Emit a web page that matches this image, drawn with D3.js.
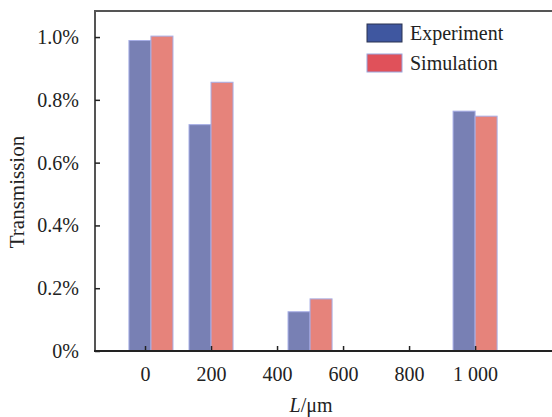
<!DOCTYPE html>
<html><head><meta charset="utf-8">
<script src="https://cdn.jsdelivr.net/npm/d3@7"></script>
<style>body{margin:0;background:#fff;}svg{display:block;font-family:"Liberation Serif","Times New Roman",serif;}</style>
</head><body>
<svg id="c" width="552" height="417"></svg>
<script>
const series = ["Experiment", "Simulation"];
const positions = [18, 200, 500, 1000];          // bar group centres on the L axis (µm)
const experiment = [0.989, 0.721, 0.125, 0.764]; // %
const simulation = [1.003, 0.856, 0.166, 0.748]; // %
const xTicks = [0, 200, 400, 600, 800, 1000];
const xTickLabels = ["0", "200", "400", "600", "800", "1 000"];
const yTicks = [0, 0.2, 0.4, 0.6, 0.8, 1.0];
const yTickLabels = ["0%", "0.2%", "0.4%", "0.6%", "0.8%", "1.0%"];

const barFill = ["#7880b4", "#e6837b"];
const legendFill = ["#3f57a0", "#e0515a"];
const legendStroke = ["#2b3350", "#9aa6dc"];

const svg = d3.select("#c");
const m = {left: 95, top: 11, right: 552, bottom: 351};
const x = d3.scaleLinear().domain([-151.5, 1233]).range([m.left, m.right]);
const y = d3.scaleLinear().domain([0, 1.083]).range([m.bottom, m.top]);
const bw = 66.7; // bar width in L units

const data = positions.map((p, i) => ({p, v: [experiment[i], simulation[i]]}));

// bars
series.forEach((s, k) => {
  svg.append("g").selectAll("rect").data(data).join("rect")
    .attr("x", d => x(k === 0 ? d.p - bw : d.p))
    .attr("width", x(bw) - x(0))
    .attr("y", d => y(d.v[k]))
    .attr("height", d => y(0) - y(d.v[k]))
    .attr("fill", barFill[k])
    .attr("stroke", "#a7aee6")
    .attr("stroke-width", 1);
});

// frame
svg.append("path")
  .attr("d", `M${m.left},${m.bottom}V${m.top}H${m.right + 2}`)
  .attr("fill", "none").attr("stroke", "#555").attr("stroke-width", 2);

// y axis
const yAxis = d3.axisLeft(y).tickValues(yTicks).tickSize(-5).tickPadding(16)
  .tickFormat((d, i) => yTickLabels[i]);
const gy = svg.append("g").attr("transform", `translate(${m.left},0)`).call(yAxis);
gy.select(".domain").remove();
gy.selectAll(".tick line").attr("stroke", "#222").attr("stroke-width", 1.5);
gy.selectAll(".tick text").attr("font-size", 20).attr("fill", "#222")
  .attr("font-family", "Liberation Serif, serif");

// x axis
const xAxis = d3.axisBottom(x).tickValues(xTicks).tickSize(-5).tickPadding(16)
  .tickFormat((d, i) => xTickLabels[i]);
const gx = svg.append("g").attr("transform", `translate(0,${m.bottom})`).call(xAxis);
gx.select(".domain").remove();
gx.selectAll(".tick line").attr("stroke", "#222").attr("stroke-width", 1.5);
gx.selectAll(".tick text").attr("font-size", 20).attr("fill", "#222")
  .attr("font-family", "Liberation Serif, serif");
svg.append("line").attr("x1", m.left - 1).attr("x2", m.right).attr("y1", m.bottom).attr("y2", m.bottom)
  .attr("stroke", "#222").attr("stroke-width", 2);

// axis titles
const xt = svg.append("text").attr("x", 311).attr("y", 412).attr("text-anchor", "middle")
  .attr("font-size", 20).attr("fill", "#222");
xt.append("tspan").attr("font-style", "italic").text("L");
xt.append("tspan").text("/μm");

svg.append("text").attr("transform", "translate(24,192) rotate(-90)")
  .attr("text-anchor", "middle").attr("font-size", 21).attr("fill", "#222").text("Transmission");

// legend
const lg = svg.append("g");
series.forEach((s, k) => {
  const yy = 24 + k * 30;
  lg.append("rect").attr("x", 367).attr("y", yy).attr("width", 35).attr("height", 18)
    .attr("fill", legendFill[k]).attr("stroke", legendStroke[k]).attr("stroke-width", 1);
  lg.append("text").attr("x", 410).attr("y", yy + 16).attr("font-size", 20).attr("fill", "#222").text(s);
});
</script>
</body></html>
